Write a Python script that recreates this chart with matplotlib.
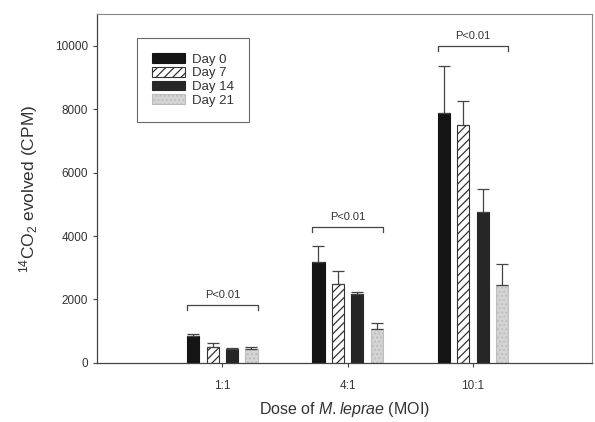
import matplotlib
matplotlib.use("Agg")
import matplotlib.pyplot as plt
import numpy as np

plt.rcParams['font.family'] = ['Liberation Sans', 'DejaVu Sans']
plt.rcParams['mathtext.fontset'] = 'custom'
plt.rcParams['mathtext.rm'] = 'Liberation Sans'
plt.rcParams['mathtext.it'] = 'Liberation Sans:italic'
plt.rcParams['hatch.linewidth'] = 0.9

doses = ['1:1', '4:1', '10:1']
days = ['Day 0', 'Day 7', 'Day 14', 'Day 21']
day0 = [850, 3180, 7890]
day7 = [500, 2490, 7500]
day14 = [450, 2180, 4760]
day21 = [430, 1070, 2460]
err0 = [50, 510, 1480]
err7 = [120, 410, 760]
err14 = [20, 40, 730]
err21 = [80, 190, 660]
bracket_y = [1830, 4290, 10000]
p_label = 'P<0.01'

series = [day0, day7, day14, day21]
errors = [err0, err7, err14, err21]
faces = ['#141414', 'white', '#262626', '#d4d4d4']
hatches = [None, '////', None, '....']
hatch_edges = ['#141414', '#333333', '#262626', '#bdbdbd']

fig = plt.figure(figsize=(5.95, 4.22), dpi=100)
ax = fig.add_axes([0.163, 0.140, 0.832, 0.827])

x = np.arange(1, len(doses) + 1)
pitch = 0.155
width = 0.097
for i, (vals, errs) in enumerate(zip(series, errors)):
    pos = x + (i - 1.5) * pitch
    ax.bar(pos, vals, width, color=faces[i], edgecolor=hatch_edges[i],
           hatch=hatches[i], linewidth=0.8, label=days[i], zorder=2)
    ax.errorbar(pos, vals, yerr=[np.zeros(len(vals)), errs], fmt='none',
                ecolor='#444444', elinewidth=0.9, capsize=4, capthick=0.9, zorder=3)

for xi, by in zip(x, bracket_y):
    xl = xi - 1.5 * pitch - width / 2
    xr = xi + 1.5 * pitch + width / 2
    ax.plot([xl, xl, xr, xr], [by - 170, by, by, by - 170], color='#444444', lw=0.9, zorder=3)
    ax.text(xi, by + 150, p_label, ha='center', va='bottom', fontsize=8, color='#333333')

ax.set_xlim(0, 3.95)
ax.set_ylim(0, 11000)
ax.set_yticks(range(0, 10001, 2000))
ax.set_xticks(x)
ax.set_xticklabels(doses)
ax.tick_params(axis='both', direction='out', length=3, width=0.8, labelsize=8.5,
               colors='#444444', labelcolor='#333333')
ax.tick_params(axis='x', pad=9)
for s in ['top', 'right']:
    ax.spines[s].set_color('#888888')
    ax.spines[s].set_linewidth(0.8)
for s in ['left', 'bottom']:
    ax.spines[s].set_color('#444444')
    ax.spines[s].set_linewidth(0.9)

ax.set_ylabel('$^{14}$CO$_2$ evolved (CPM)', fontsize=12.5, color='#333333', labelpad=11)
ax.set_xlabel('Dose of $\\mathit{M.leprae}$ (MOI)', fontsize=11.5, color='#333333', labelpad=6)

leg = ax.legend(loc='upper left', bbox_to_anchor=(0.081, 0.931), borderaxespad=0,
                fontsize=9.5, frameon=True, fancybox=False, edgecolor='#444444',
                handlelength=2.5, handleheight=0.75, labelspacing=0.1,
                borderpad=1.15, handletextpad=0.5)
leg.get_frame().set_linewidth(0.8)
for t in leg.get_texts():
    t.set_color('#333333')

fig.savefig('out.png', dpi=100, facecolor='white')
